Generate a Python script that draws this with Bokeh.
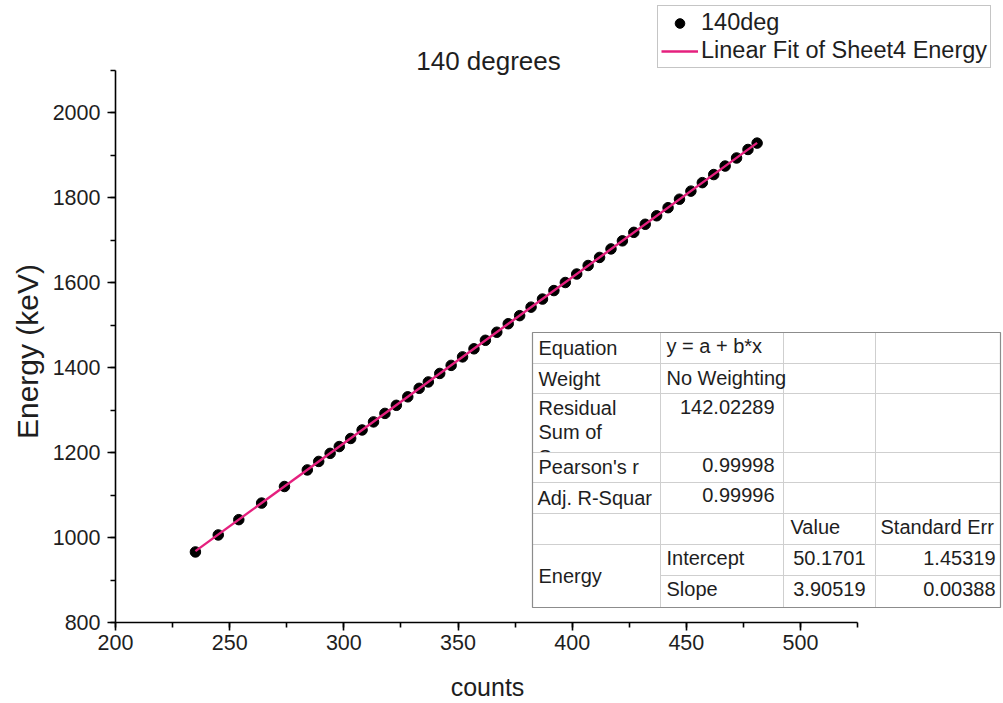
import math
from bokeh.plotting import figure
from bokeh.models import Range1d, SingleIntervalTicker, Label
from bokeh.core.properties import value
from bokeh.embed import file_html
from bokeh.resources import INLINE

# ---------------- data ----------------
counts = [235, 245, 254, 264, 274, 284, 289, 294, 298, 303, 308, 313, 318, 323, 328, 333,
          337, 342, 347, 352, 357, 362, 367, 372, 377, 382, 387, 392, 397, 402, 407, 412,
          417, 422, 427, 432, 437, 442, 447, 452, 457, 462, 467, 472, 477, 481]
energy = [966, 1006, 1042, 1081, 1120, 1159, 1179, 1198, 1214, 1233, 1253, 1272, 1292, 1311, 1331, 1351,
          1366, 1386, 1405, 1425, 1444, 1464, 1483, 1503, 1522, 1542, 1561, 1581, 1600, 1620, 1640, 1659,
          1679, 1698, 1718, 1737, 1757, 1776, 1796, 1815, 1835, 1854, 1874, 1893, 1913, 1928]

fit_intercept = 50.1701
fit_slope = 3.90519
fit_x = [counts[0], counts[-1]]
fit_y = [fit_intercept + fit_slope * v for v in fit_x]

x_ticks_interval = 50
y_ticks_interval = 200
x_axis_span = (200, 525)
y_axis_span = (800, 2100)

# fit-report table content
tbl_col1 = ["Equation", "Weight", "Residual", "Sum of", "Pearson's r", "Adj. R-Squar", "Energy"]
tbl_col2_text = ["y = a + b*x", "No Weighting", "Intercept", "Slope"]
tbl_col2_nums = ["142.02289", "0.99998", "0.99996"]
tbl_head = ["Value", "Standard Err"]
tbl_values = ["50.1701", "3.90519"]
tbl_errors = ["1.45319", "0.00388"]

# ---------------- layout helpers (pixel -> data) ----------------
W, H = 1003, 703
AX_L, AX_B = 115, 622      # pixel position of the axes' origin (x=200, y=800)
SX = 685.0 / 300.0         # px per count
SY = 510.0 / 1200.0        # px per keV


def dx(px):
    return x_axis_span[0] + (px - AX_L) / SX


def dy(py):
    return y_axis_span[0] + (AX_B - py) / SY


FONT = "Liberation Sans"
PINK = "#E5207E"
TXT = "#1e1e1e"

p = figure(width=W, height=H, output_backend="svg", toolbar_location=None,
           x_range=Range1d(dx(0), dx(W)), y_range=Range1d(dy(H), dy(0)),
           min_border=0, min_border_left=0, min_border_right=0, min_border_top=0,
           min_border_bottom=0)
p.outline_line_color = None
p.grid.visible = False
p.background_fill_color = "white"
p.border_fill_color = "white"

# axes (Origin style: placed at the origin, limited to their spans)
xa = p.xaxis[0]
xa.ticker = SingleIntervalTicker(interval=x_ticks_interval, num_minor_ticks=2)
xa.bounds = x_axis_span
xa.fixed_location = y_axis_span[0]
ya = p.yaxis[0]
ya.ticker = SingleIntervalTicker(interval=y_ticks_interval, num_minor_ticks=2)
ya.bounds = y_axis_span
ya.fixed_location = x_axis_span[0]
for ax in (xa, ya):
    ax.axis_line_color = "black"
    ax.axis_line_width = 1.6
    ax.major_tick_line_color = "black"
    ax.minor_tick_line_color = "black"
    ax.major_tick_line_width = 1.6
    ax.minor_tick_line_width = 1.6
    ax.major_tick_in = 0
    ax.major_tick_out = 8
    ax.minor_tick_in = 0
    ax.minor_tick_out = 5
    ax.major_label_text_font = FONT
    ax.major_label_text_font_size = "21.5px"
    ax.major_label_text_color = TXT
xa.major_label_standoff = 4
ya.major_label_standoff = 7

# axis titles and chart title
p.add_layout(Label(x=dx(487), y=dy(686), text="counts", text_align="center",
                   text_baseline="middle", text_font=FONT, text_font_size="25px", text_color=TXT))
p.add_layout(Label(x=dx(27), y=dy(351), text="Energy (keV)", angle=math.pi / 2,
                   text_align="center", text_baseline="middle", text_font=FONT,
                   text_font_size="30px", text_color=TXT))
p.add_layout(Label(x=dx(488), y=dy(60), text="140 degrees", text_align="center",
                   text_baseline="middle", text_font=FONT, text_font_size="26px", text_color=TXT))

# data
p.scatter(counts, energy, size=10.5, marker="circle", fill_color="black", line_color="black",
          legend_label="140deg")
p.line(fit_x, fit_y, line_color=PINK, line_width=2.4, legend_label="Linear Fit of Sheet4 Energy")

# legend
leg = p.legend[0]
leg.location = (657, H - 68)
leg.margin = 0
leg.padding = 3
leg.spacing = 1
leg.label_height = 24
leg.glyph_height = 24
leg.glyph_width = 37
leg.label_standoff = 3
leg.label_text_font = FONT
leg.label_text_font_size = "23.5px"
leg.label_text_color = TXT
leg.border_line_color = "#8c8c8c"
leg.border_line_width = 1
leg.background_fill_color = "white"
leg.background_fill_alpha = 1.0

# ---------------- fit report table ----------------
TL, TR, TT, TB = 532, 1000, 332, 607
p.quad(left=[dx(TL)], right=[dx(TR)], top=[dy(TT)], bottom=[dy(TB)],
       fill_color="white", line_color=None)

tf = value(FONT)
tfs = value("20px")

# clipped third line of "Residual Sum of Squares"
p.text(x=[dx(538)], y=[dy(456)], text=["Squares"], text_font=tf, text_font_size=tfs,
       text_align="left", text_baseline="middle", text_color=TXT)
p.quad(left=[dx(533)], right=[dx(659)], top=[dy(452.5)], bottom=[dy(481.5)],
       fill_color="white", line_color=None)

GRID = "#cfcfcf"
rows_full = [363, 393, 452, 482, 513, 544]
p.segment(x0=[dx(TL)] * len(rows_full), x1=[dx(TR)] * len(rows_full),
          y0=[dy(r) for r in rows_full], y1=[dy(r) for r in rows_full],
          line_color=GRID, line_width=1)
p.segment(x0=[dx(660)], x1=[dx(TR)], y0=[dy(575)], y1=[dy(575)], line_color=GRID, line_width=1)
cols = [660, 783, 875]
p.segment(x0=[dx(c) for c in cols], x1=[dx(c) for c in cols],
          y0=[dy(TT)] * len(cols), y1=[dy(TB)] * len(cols), line_color=GRID, line_width=1)
p.quad(left=[dx(TL)], right=[dx(TR)], top=[dy(TT)], bottom=[dy(TB)],
       fill_color=None, line_color="#8c8c8c", line_width=1.2)

# left-aligned texts
col1_pos = [(538, 347), (538, 378), (538, 407), (538, 431), (538, 466), (537, 497), (538, 575)]
col2_pos = [(666, 345), (666, 377), (666, 557), (666, 588)]
p.text(x=[dx(a) for a, b in col1_pos], y=[dy(b) for a, b in col1_pos], text=tbl_col1,
       text_font=tf, text_font_size=tfs, text_align="left", text_baseline="middle", text_color=TXT)
p.text(x=[dx(a) for a, b in col2_pos], y=[dy(b) for a, b in col2_pos], text=tbl_col2_text,
       text_font=tf, text_font_size=tfs, text_align="left", text_baseline="middle", text_color=TXT)
head_pos = [(790, 526), (880, 526)]
p.text(x=[dx(a) for a, b in head_pos], y=[dy(b) for a, b in head_pos], text=tbl_head,
       text_font=tf, text_font_size=tfs, text_align="left", text_baseline="middle", text_color=TXT)
# right-aligned numbers
num_pos = [(774, 406), (774, 464), (774, 494)]
p.text(x=[dx(a) for a, b in num_pos], y=[dy(b) for a, b in num_pos], text=tbl_col2_nums,
       text_font=tf, text_font_size=tfs, text_align="right", text_baseline="middle", text_color=TXT)
val_pos = [(865, 557), (865, 588)]
p.text(x=[dx(a) for a, b in val_pos], y=[dy(b) for a, b in val_pos], text=tbl_values,
       text_font=tf, text_font_size=tfs, text_align="right", text_baseline="middle", text_color=TXT)
err_pos = [(995, 557), (995, 588)]
p.text(x=[dx(a) for a, b in err_pos], y=[dy(b) for a, b in err_pos], text=tbl_errors,
       text_font=tf, text_font_size=tfs, text_align="right", text_baseline="middle", text_color=TXT)

open("out.html", "w").write(file_html(p, INLINE))
